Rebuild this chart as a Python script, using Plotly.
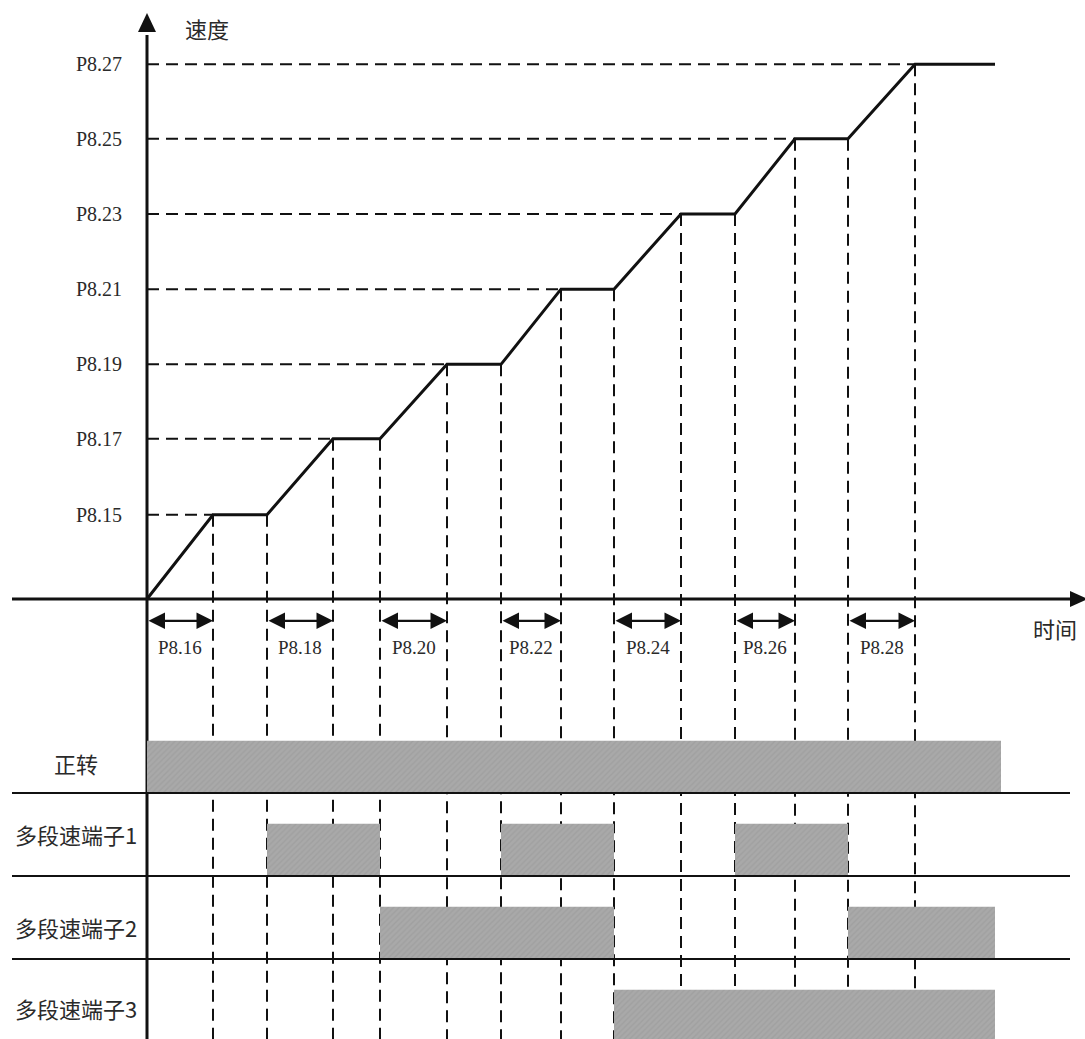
import plotly.graph_objects as go

# ---------------- data ----------------
# time (arbitrary units) at which each speed level is reached
t_reach = [6.6, 18.6, 30.0, 41.4, 53.4, 64.8, 76.8]
# time at which each plateau ends (acceleration to the next level starts)
t_leave = [12.0, 23.3, 35.4, 46.7, 58.8, 70.1]
t_end = 84.8
# speed levels (relative units)
speed_levels = [1.12, 2.13, 3.12, 4.12, 5.12, 6.12, 7.11]
speed_labels = ["P8.15", "P8.17", "P8.19", "P8.21", "P8.23", "P8.25", "P8.27"]
accel_labels = ["P8.16", "P8.18", "P8.20", "P8.22", "P8.24", "P8.26", "P8.28"]

# signal lanes: name and ON intervals (time units)
lane_names = ["正转", "多段速端子1", "多段速端子2", "多段速端子3"]
lane_on = [
    [(0.0, 85.4)],
    [(12.0, 23.3), (35.4, 46.7), (58.8, 70.1)],
    [(23.3, 46.7), (70.1, 84.8)],
    [(46.7, 84.8)],
]
lane_high = 0.63
lane_label_y = [0.36, 0.5, 0.39, 0.41]

# ---------------- figure ----------------
X_RANGE = [-14.7, 93.8]
Y_RANGE = [-5.851, 7.965]      # speed axis
Y2_RANGE = [-2.964, 9.554]     # lane axis
FONT_LAT = "Liberation Serif, Noto Sans CJK SC"
FONT_CJK = "Noto Sans CJK SC, Liberation Serif"
INK = "#111111"
TXT = "#2a2a2a"

fig = go.Figure()

# signal bars (hatched gray)
for i, spans in enumerate(lane_on):
    xs, ys = [], []
    base = -i
    for a, b in spans:
        xs += [a, b, b, a, a, None]
        ys += [base, base, base + lane_high, base + lane_high, base, None]
    fig.add_trace(go.Scatter(
        x=xs, y=ys, yaxis="y2", mode="lines", fill="toself",
        line=dict(width=0, color="rgba(0,0,0,0)"),
        fillcolor="#a8a8a8",
        fillpattern=dict(shape="/", bgcolor="#a9a9a9", fgcolor="#979797",
                         size=4, solidity=0.35),
        hoverinfo="skip", showlegend=False))

# lane separator lines
xs, ys = [], []
for i in range(3):
    xs += [-13.5, 92.3, None]
    ys += [-i, -i, None]
fig.add_trace(go.Scatter(x=xs, y=ys, yaxis="y2", mode="lines",
                         line=dict(color=INK, width=2), hoverinfo="skip",
                         showlegend=False))

# dashed guide lines
dash = "12px,7px"
xs, ys = [], []
for i, lvl in enumerate(speed_levels):
    # horizontal from the speed axis to where the level is reached
    xs += [0, t_reach[i], None]
    ys += [lvl, lvl, None]
    # vertical lines down from the level
    xs += [t_reach[i], t_reach[i], None]
    ys += [lvl, Y_RANGE[0], None]
    if i < len(t_leave):
        xs += [t_leave[i], t_leave[i], None]
        ys += [lvl, Y_RANGE[0], None]
fig.add_trace(go.Scatter(x=xs, y=ys, mode="lines",
                         line=dict(color=INK, width=2, dash=dash),
                         hoverinfo="skip", showlegend=False))

# speed profile
px, py = [0.0], [0.0]
for i, lvl in enumerate(speed_levels):
    px.append(t_reach[i]); py.append(lvl)
    px.append(t_leave[i] if i < len(t_leave) else t_end); py.append(lvl)
fig.add_trace(go.Scatter(x=px, y=py, mode="lines",
                         line=dict(color=INK, width=3), hoverinfo="skip",
                         showlegend=False))

# axes lines
fig.add_trace(go.Scatter(x=[0, 0], y=[7.5, Y_RANGE[0]], mode="lines",
                         line=dict(color=INK, width=3), hoverinfo="skip",
                         showlegend=False))
fig.add_trace(go.Scatter(x=[-13.5, 92.5], y=[0, 0], mode="lines",
                         line=dict(color=INK, width=3), hoverinfo="skip",
                         showlegend=False))

shapes = [
    # arrow head on speed axis
    dict(type="path", xref="x", yref="y", xsizemode="pixel", ysizemode="pixel",
         xanchor=0, yanchor=7.54, path="M-9,0 L9,0 L0,19 Z",
         fillcolor=INK, line=dict(width=0)),
    # arrow head on time axis
    dict(type="path", xref="x", yref="y", xsizemode="pixel", ysizemode="pixel",
         xanchor=92.3, yanchor=0, path="M0,-8 L0,8 L18,0 Z",
         fillcolor=INK, line=dict(width=0)),
]

annotations = []
# speed level labels
for lvl, lab in zip(speed_levels, speed_labels):
    annotations.append(dict(x=0, y=lvl, xref="x", yref="y", text=lab,
                            showarrow=False, xanchor="right", yanchor="middle",
                            xshift=-23, font=dict(family=FONT_LAT, size=20, color=TXT)))
# acceleration-time double arrows and labels
starts = [0.0] + t_leave
for a, b, lab in zip(starts, t_reach, accel_labels):
    annotations.append(dict(x=b, y=-0.29, ax=a, ay=-0.29, xref="x", yref="y",
                            axref="x", ayref="y", text="", showarrow=True,
                            arrowside="end+start", arrowhead=2, startarrowhead=2,
                            arrowsize=1.5, startarrowsize=1.5, arrowwidth=2.2,
                            arrowcolor=INK, standoff=0, startstandoff=0))
    annotations.append(dict(x=(a + b) / 2, y=-0.64, xref="x", yref="y", text=lab,
                            showarrow=False, xanchor="center", yanchor="middle",
                            font=dict(family=FONT_LAT, size=19, color=TXT)))
# axis titles
annotations.append(dict(x=6.0, y=7.59, xref="x", yref="y", text="速度", showarrow=False,
                        font=dict(family=FONT_CJK, size=22, color=TXT)))
annotations.append(dict(x=90.8, y=-0.39, xref="x", yref="y", text="时间", showarrow=False,
                        font=dict(family=FONT_CJK, size=22, color=TXT)))
# lane labels
for i, (name, ly) in enumerate(zip(lane_names, lane_label_y)):
    annotations.append(dict(x=-7.1, y=-i + ly, xref="x", yref="y2", text=name,
                            showarrow=False, xanchor="center", yanchor="middle",
                            font=dict(family=FONT_CJK, size=22, color=TXT)))

fig.update_layout(
    width=1085, height=1039,
    margin=dict(l=0, r=0, t=0, b=0),
    paper_bgcolor="white", plot_bgcolor="white",
    xaxis=dict(range=X_RANGE, visible=False, fixedrange=True),
    yaxis=dict(range=Y_RANGE, visible=False, fixedrange=True, domain=[0, 1]),
    yaxis2=dict(range=Y2_RANGE, visible=False, fixedrange=True,
                overlaying="y", anchor="x"),
    shapes=shapes,
    annotations=annotations,
    showlegend=False,
)

fig.write_html("out.html",
               config={"displayModeBar": False},
               post_script="document.body.style.margin='0';document.body.style.overflow='hidden';")
